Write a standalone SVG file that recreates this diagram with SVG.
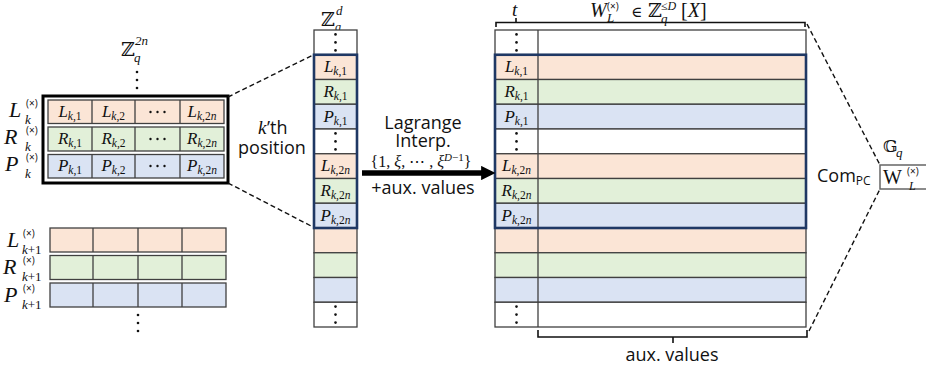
<svg xmlns="http://www.w3.org/2000/svg" width="926" height="370" viewBox="0 0 926 370">
  <style>
    .m { font-family: "Liberation Serif", "DejaVu Serif", serif; font-style: italic; fill: #111; }
    .u { font-style: normal; }
    .bb { font-family: "DejaVu Serif", serif; font-style: normal; fill: #111; }
    .s { font-family: "Open Sans", "DejaVu Sans", sans-serif; fill: #111; }
    .c { font-family: "Liberation Serif", "DejaVu Serif", serif; font-style: italic; fill: #111; font-size: 17px; text-anchor: middle; }
    .c tspan { font-size: 11.5px; }
    .cell { stroke: #404040; stroke-width: 1.3; }
    .or { fill: #fbe5d6; }
    .gr { fill: #e2f0d9; }
    .bl { fill: #dae3f3; }
    .wh { fill: #ffffff; }
    .ln { stroke: #404040; stroke-width: 1.3; fill: none; }
    .navy { fill: none; stroke: #1f3864; stroke-width: 2.6; }
    .dash { stroke: #111; stroke-width: 1.4; stroke-dasharray: 5 3; fill: none; }
    .brace { stroke: #111; stroke-width: 1.6; fill: none; }
    .dot { fill: #111; }
    .lab { font-family: "Liberation Serif", "DejaVu Serif", serif; font-style: italic; fill: #111; font-size: 22px; }
    .sup { font-family: "Open Sans", "DejaVu Sans", sans-serif; fill: #111; font-size: 10px; }
  </style>
  <defs>
    <g id="vdots">
      <circle cx="0" cy="-8" r="1.3" class="dot"/>
      <circle cx="0" cy="0" r="1.3" class="dot"/>
      <circle cx="0" cy="8" r="1.3" class="dot"/>
    </g>
    <g id="hdots">
      <circle cx="-7" cy="0" r="1.2" class="dot"/>
      <circle cx="0" cy="0" r="1.2" class="dot"/>
      <circle cx="7" cy="0" r="1.2" class="dot"/>
    </g>
    <marker id="head" viewBox="0 0 10 10" refX="2" refY="5" markerWidth="2.6" markerHeight="2.6" orient="auto">
      <path d="M0,0 L10,5 L0,10 Z" fill="#000"/>
    </marker>
  </defs>

  <!-- Block k: rows L, R, P over Z_q^{2n} -->
  <g id="block-k">
    <text x="121" y="56" class="bb" font-size="19">ℤ</text>
    <text x="135" y="45" class="m" font-size="13">2n</text>
    <text x="134" y="62" class="m" font-size="13">q</text>
    <use href="#vdots" x="137" y="80"/>
    <rect x="43" y="96" width="185" height="87" fill="#fff" stroke="#000" stroke-width="3"/>
    <rect x="48" y="100" width="176" height="23.5" class="cell or"/>
    <rect x="48" y="127" width="176" height="24" class="cell gr"/>
    <rect x="48" y="154.5" width="176" height="23.5" class="cell bl"/>
    <path d="M92,100V123.5M135,100V123.5M180,100V123.5M92,127V151M135,127V151M180,127V151M92,154.5V178M135,154.5V178M180,154.5V178" class="ln"/>
    <text x="70" y="117" class="c">L<tspan dy="3">k</tspan><tspan class="u">,1</tspan></text>
    <text x="113.5" y="117" class="c">L<tspan dy="3">k</tspan><tspan class="u">,2</tspan></text>
    <use href="#hdots" x="157.5" y="112"/>
    <text x="202" y="117" class="c">L<tspan dy="3">k</tspan><tspan class="u">,2</tspan><tspan>n</tspan></text>
    <text x="70" y="144" class="c">R<tspan dy="3">k</tspan><tspan class="u">,1</tspan></text>
    <text x="113.5" y="144" class="c">R<tspan dy="3">k</tspan><tspan class="u">,2</tspan></text>
    <use href="#hdots" x="157.5" y="139"/>
    <text x="202" y="144" class="c">R<tspan dy="3">k</tspan><tspan class="u">,2</tspan><tspan>n</tspan></text>
    <text x="70" y="171" class="c">P<tspan dy="3">k</tspan><tspan class="u">,1</tspan></text>
    <text x="113.5" y="171" class="c">P<tspan dy="3">k</tspan><tspan class="u">,2</tspan></text>
    <use href="#hdots" x="157.5" y="166"/>
    <text x="202" y="171" class="c">P<tspan dy="3">k</tspan><tspan class="u">,2</tspan><tspan>n</tspan></text>
    <!-- row labels -->
    <text x="9" y="117" class="lab">L</text>
    <text x="26" y="107" class="sup">(×)</text>
    <text x="25" y="124" class="m" font-size="13">k</text>
    <text x="4" y="144" class="lab">R</text>
    <text x="26" y="134" class="sup">(×)</text>
    <text x="25" y="151" class="m" font-size="13">k</text>
    <text x="5" y="171" class="lab">P</text>
    <text x="26" y="161" class="sup">(×)</text>
    <text x="25" y="178" class="m" font-size="13">k</text>
  </g>

  <!-- Block k+1 -->
  <g id="block-k1">
    <rect x="50" y="228" width="176" height="24" class="cell or"/>
    <rect x="50" y="255.5" width="176" height="24" class="cell gr"/>
    <rect x="50" y="283" width="176" height="24" class="cell bl"/>
    <path d="M93,228V252M138,228V252M182,228V252M93,255.5V279.5M138,255.5V279.5M182,255.5V279.5M93,283V307M138,283V307M182,283V307" class="ln"/>
    <text x="7" y="247" class="lab">L</text>
    <text x="23" y="237" class="sup">(×)</text>
    <text x="22" y="254" class="m" font-size="13">k<tspan class="u">+1</tspan></text>
    <text x="3" y="274" class="lab">R</text>
    <text x="23" y="264" class="sup">(×)</text>
    <text x="22" y="281" class="m" font-size="13">k<tspan class="u">+1</tspan></text>
    <text x="4" y="302" class="lab">P</text>
    <text x="23" y="292" class="sup">(×)</text>
    <text x="22" y="309" class="m" font-size="13">k<tspan class="u">+1</tspan></text>
    <use href="#vdots" x="138" y="323"/>
  </g>

  <!-- Column vector in Z_q^d -->
  <g id="column-d">
    <text x="321" y="26" class="bb" font-size="19">ℤ</text>
    <text x="336" y="15" class="m" font-size="13">d</text>
    <text x="335" y="31" class="m" font-size="12">q</text>
    <rect x="314" y="30" width="43" height="24.75" class="cell wh"/>
    <rect x="314" y="54.75" width="43" height="24.75" class="cell or"/>
    <rect x="314" y="79.5" width="43" height="24.75" class="cell gr"/>
    <rect x="314" y="104.25" width="43" height="24.75" class="cell bl"/>
    <rect x="314" y="129" width="43" height="24.75" class="cell wh"/>
    <rect x="314" y="153.75" width="43" height="24.75" class="cell or"/>
    <rect x="314" y="178.5" width="43" height="24.75" class="cell gr"/>
    <rect x="314" y="203.25" width="43" height="24.75" class="cell bl"/>
    <rect x="314" y="228" width="43" height="24.75" class="cell or"/>
    <rect x="314" y="252.75" width="43" height="24.75" class="cell gr"/>
    <rect x="314" y="277.5" width="43" height="24.75" class="cell bl"/>
    <rect x="314" y="302.25" width="43" height="24.75" class="cell wh"/>
    <rect x="314" y="54.75" width="43" height="173.25" class="navy"/>
    <use href="#vdots" x="335.5" y="42.4"/>
    <use href="#vdots" x="335.5" y="141.4"/>
    <use href="#vdots" x="335.5" y="314.6"/>
    <text x="335.5" y="72" class="c">L<tspan dy="3">k</tspan><tspan class="u">,1</tspan></text>
    <text x="335.5" y="97" class="c">R<tspan dy="3">k</tspan><tspan class="u">,1</tspan></text>
    <text x="335.5" y="121.5" class="c">P<tspan dy="3">k</tspan><tspan class="u">,1</tspan></text>
    <text x="335.5" y="171" class="c">L<tspan dy="3">k</tspan><tspan class="u">,2</tspan><tspan>n</tspan></text>
    <text x="335.5" y="196" class="c">R<tspan dy="3">k</tspan><tspan class="u">,2</tspan><tspan>n</tspan></text>
    <text x="335.5" y="220.5" class="c">P<tspan dy="3">k</tspan><tspan class="u">,2</tspan><tspan>n</tspan></text>
  </g>

  <!-- Label between block and column -->
  <g id="kth-label">
    <text x="258" y="134" class="m" font-size="19">k</text>
    <text x="267" y="134" class="s" font-size="18">’th</text>
    <text x="272" y="154" class="s" font-size="18" text-anchor="middle">position</text>
  </g>

  <!-- Interpolation table W_L -->
  <g id="table-W">
    <text x="590" y="17" class="m" font-size="20">W</text>
    <text x="607" y="10" class="sup" font-size="9">(×)</text>
    <text x="607" y="22" class="m" font-size="13">L</text>
    <text x="631" y="17" font-family="DejaVu Serif, serif" font-size="15" fill="#111">∈</text>
    <text x="648" y="17" class="bb" font-size="19">ℤ</text>
    <text x="661" y="10" class="m" font-size="12"><tspan class="u">≤</tspan>D</text>
    <text x="661" y="23" class="m" font-size="13">q</text>
    <text x="681" y="17" class="m" font-size="20"><tspan class="u">[</tspan>X<tspan class="u">]</tspan></text>
    <text x="512" y="16" class="m" font-size="19">t</text>
    <rect x="495" y="30" width="311" height="24.75" class="cell wh"/>
    <rect x="495" y="54.75" width="311" height="24.75" class="cell or"/>
    <rect x="495" y="79.5" width="311" height="24.75" class="cell gr"/>
    <rect x="495" y="104.25" width="311" height="24.75" class="cell bl"/>
    <rect x="495" y="129" width="311" height="24.75" class="cell wh"/>
    <rect x="495" y="153.75" width="311" height="24.75" class="cell or"/>
    <rect x="495" y="178.5" width="311" height="24.75" class="cell gr"/>
    <rect x="495" y="203.25" width="311" height="24.75" class="cell bl"/>
    <rect x="495" y="228" width="311" height="24.75" class="cell or"/>
    <rect x="495" y="252.75" width="311" height="24.75" class="cell gr"/>
    <rect x="495" y="277.5" width="311" height="24.75" class="cell bl"/>
    <rect x="495" y="302.25" width="311" height="24.75" class="cell wh"/>
    <path d="M538,30V327" class="ln" stroke="#222"/>
    <rect x="495" y="54.75" width="311" height="173.25" class="navy"/>
    <use href="#vdots" x="516.5" y="42.4"/>
    <use href="#vdots" x="516.5" y="141.4"/>
    <use href="#vdots" x="516.5" y="314.6"/>
    <text x="516.5" y="72" class="c">L<tspan dy="3">k</tspan><tspan class="u">,1</tspan></text>
    <text x="516.5" y="97" class="c">R<tspan dy="3">k</tspan><tspan class="u">,1</tspan></text>
    <text x="516.5" y="121.5" class="c">P<tspan dy="3">k</tspan><tspan class="u">,1</tspan></text>
    <text x="516.5" y="171" class="c">L<tspan dy="3">k</tspan><tspan class="u">,2</tspan><tspan>n</tspan></text>
    <text x="516.5" y="196" class="c">R<tspan dy="3">k</tspan><tspan class="u">,2</tspan><tspan>n</tspan></text>
    <text x="516.5" y="220.5" class="c">P<tspan dy="3">k</tspan><tspan class="u">,2</tspan><tspan>n</tspan></text>
    <!-- braces -->
    <path d="M496,27V22.5H805V27M516,22.5V18" class="brace"/>
    <path d="M538,330V337H807V330M673,337V343" class="brace"/>
    <text x="672" y="361" class="s" font-size="18" text-anchor="middle">aux. values</text>
  </g>

  <!-- Commitment -->
  <g id="commitment">
    <text x="883" y="152" class="bb" font-size="17">𝔾</text>
    <text x="896" y="157" class="m" font-size="13">q</text>
    <text x="817" y="182" class="s" font-size="18">Com<tspan font-size="12" dy="3">PC</tspan></text>
    <rect x="880" y="165" width="60" height="24" fill="#fff" stroke="#666" stroke-width="1.5"/>
    <text x="883" y="184" font-family="Liberation Serif, serif" font-size="20" fill="#111">W</text>
    <text x="907" y="175" class="sup" font-size="9">(×)</text>
    <text x="909" y="190" class="m" font-size="12">L</text>
  </g>

  <!-- Connectors -->
  <g id="connectors">
    <path d="M228,97L313,55" class="dash"/>
    <path d="M228,183L313,227" class="dash"/>
    <path d="M807,24L880,165" class="dash"/>
    <path d="M809,331L880,189" class="dash"/>
    <path d="M362,173H484" stroke="#000" stroke-width="5.5" marker-end="url(#head)"/>
    <text x="423" y="129" class="s" font-size="18" text-anchor="middle">Lagrange</text>
    <text x="423" y="147" class="s" font-size="18" text-anchor="middle">Interp.</text>
    <text x="421" y="167" class="m" font-size="16" text-anchor="middle"><tspan class="u">{1, </tspan>ξ<tspan class="u">, ⋯ , </tspan>ξ<tspan font-size="11" dy="-6">D<tspan class="u">−1</tspan></tspan><tspan class="u" dy="6">}</tspan></text>
    <text x="423" y="194" class="s" font-size="18" text-anchor="middle">+aux. values</text>
  </g>
</svg>
